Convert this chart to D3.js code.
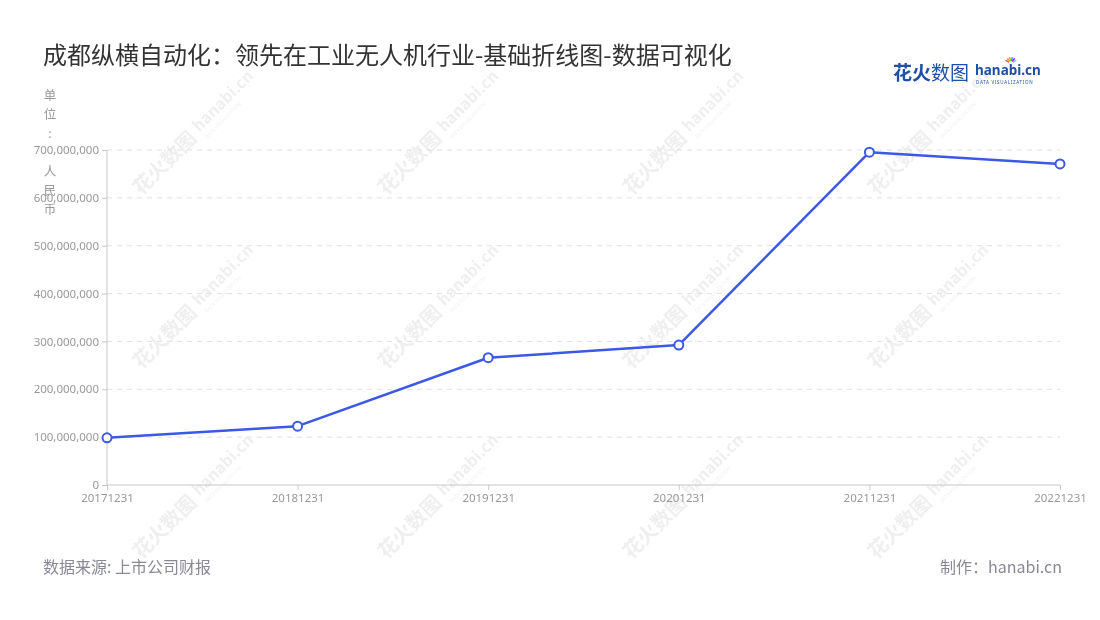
<!DOCTYPE html>
<html><head><meta charset="utf-8">
<script src="https://cdn.jsdelivr.net/npm/d3@7"></script>
<style>
html,body{margin:0;padding:0;background:#fff;}
svg{display:block;font-family:"Noto Sans CJK SC","Noto Sans",sans-serif;}
</style></head>
<body>
<svg id="chart" width="1100" height="620"></svg>
<script>
const categories = ["20171231","20181231","20191231","20201231","20211231","20221231"];
const values = [98500000, 123000000, 266000000, 292500000, 695500000, 671000000];
const yTicks = [0,100000000,200000000,300000000,400000000,500000000,600000000,700000000];
const titleText = "成都纵横自动化：领先在工业无人机行业-基础折线图-数据可视化";
const unitText = "单位: 人民币";
const sourceText = "数据来源: 上市公司财报";
const makerText = "制作：hanabi.cn";

const svg = d3.select("#chart");
const m = {left:107, right:1060, top:150, bottom:485};

// watermarks
const wm = svg.append("g").attr("opacity",0.09);
const wmX = [178,423,668,913], wmY = [148,322,512];
wmY.forEach(y=>wmX.forEach(x=>{
  const g = wm.append("g").attr("transform",`translate(${x},${y}) rotate(-45)`);
  g.append("text").attr("x",-60).attr("y",8).attr("font-size",20).attr("font-weight","bold").attr("fill","#444").text("花火数图");
  g.append("text").attr("x",26).attr("y",4).attr("font-size",16).attr("font-weight","bold").attr("fill","#444").text("hanabi.cn");
  g.append("text").attr("x",27).attr("y",14).attr("font-size",5).attr("fill","#444").text("DATA VISUALIZATION");
}));

const x = d3.scalePoint().domain(categories).range([m.left, m.right]);
const y = d3.scaleLinear().domain([0,700000000]).range([m.bottom, m.top]);

// grid
svg.append("g").selectAll("line").data(yTicks.filter(d=>d>0)).join("line")
  .attr("x1",m.left).attr("x2",m.right)
  .attr("y1",d=>y(d)).attr("y2",d=>y(d))
  .attr("stroke","#e0e0e0").attr("stroke-dasharray","5,5").attr("stroke-width",1);

// y axis
const fmt = d3.format(",");
const yAxis = svg.append("g").attr("transform",`translate(${m.left},0)`)
  .call(d3.axisLeft(y).tickValues(yTicks).tickFormat(d=>fmt(d)).tickSize(5).tickPadding(3));
yAxis.select(".domain").attr("stroke","#c8c8c8").attr("d",`M0,${m.top}V${m.bottom}`);
yAxis.selectAll(".tick line").attr("stroke","#c8c8c8");
yAxis.selectAll(".tick text").attr("fill","#999").attr("font-size",11.5).attr("font-family","Noto Sans, sans-serif");

// x axis
const xAxis = svg.append("g").attr("transform",`translate(0,${m.bottom})`)
  .call(d3.axisBottom(x).tickSize(5).tickPadding(4));
xAxis.select(".domain").attr("stroke","#c8c8c8").attr("d",`M${m.left},0H${m.right}`);
xAxis.selectAll(".tick line").attr("stroke","#c8c8c8");
xAxis.selectAll(".tick text").attr("fill","#999").attr("font-size",11.5).attr("font-family","Noto Sans, sans-serif");

// unit label vertical
const unit = svg.append("text").attr("fill","#999").attr("font-size",12.5).attr("text-anchor","middle");
Array.from(unitText).forEach((c,i)=>{
  unit.append("tspan").attr("x",50).attr("y",100+i*19).text(c===" "?"\u00a0":c);
});

// line
const color = "#3b58e6";
svg.append("path").datum(values)
  .attr("fill","none").attr("stroke",color).attr("stroke-width",2.5).attr("stroke-linejoin","round")
  .attr("d",d3.line().x((d,i)=>x(categories[i])).y(d=>y(d)));
svg.append("g").selectAll("circle").data(values).join("circle")
  .attr("cx",(d,i)=>x(categories[i])).attr("cy",d=>y(d)).attr("r",4.5)
  .attr("fill","#fff").attr("stroke",color).attr("stroke-width",2);

// title
svg.append("text").attr("x",43).attr("y",64).attr("font-size",24).attr("fill","#333").text(titleText);

// logo
const logo = svg.append("g");
logo.append("text").attr("x",893).attr("y",80).attr("font-size",19).attr("font-weight","bold").attr("fill","#1f4fa8").text("花火");
logo.append("text").attr("x",931).attr("y",80).attr("font-size",19).attr("fill","#1f4fa8").text("数图");
logo.append("text").attr("x",975).attr("y",75).attr("font-size",13.5).attr("font-weight","bold").attr("fill","#1f4fa8").attr("font-family","Noto Sans, sans-serif").text("hanabi.cn");
logo.append("text").attr("x",976).attr("y",84).attr("font-size",4.5).attr("fill","#1f4fa8").attr("font-family","Noto Sans, sans-serif").attr("letter-spacing",0.7).text("DATA VISUALIZATION");
const sparkColors = ["#e94b4b","#f5a623","#7ed321","#4a90e2","#bd10e0","#50e3c2"];
sparkColors.forEach((c,i)=>{
  const a = -Math.PI/2 + (i-2.5)*0.45;
  logo.append("line").attr("x1",1011+Math.cos(a)*2).attr("y1",63+Math.sin(a)*2)
    .attr("x2",1011+Math.cos(a)*6).attr("y2",63+Math.sin(a)*6).attr("stroke",c).attr("stroke-width",1.5);
});

// footer
svg.append("text").attr("x",43).attr("y",573).attr("font-size",16).attr("fill","#888896").text(sourceText);
svg.append("text").attr("x",1062).attr("y",573).attr("font-size",16).attr("fill","#888896").attr("text-anchor","end").text(makerText);
</script>
</body></html>
